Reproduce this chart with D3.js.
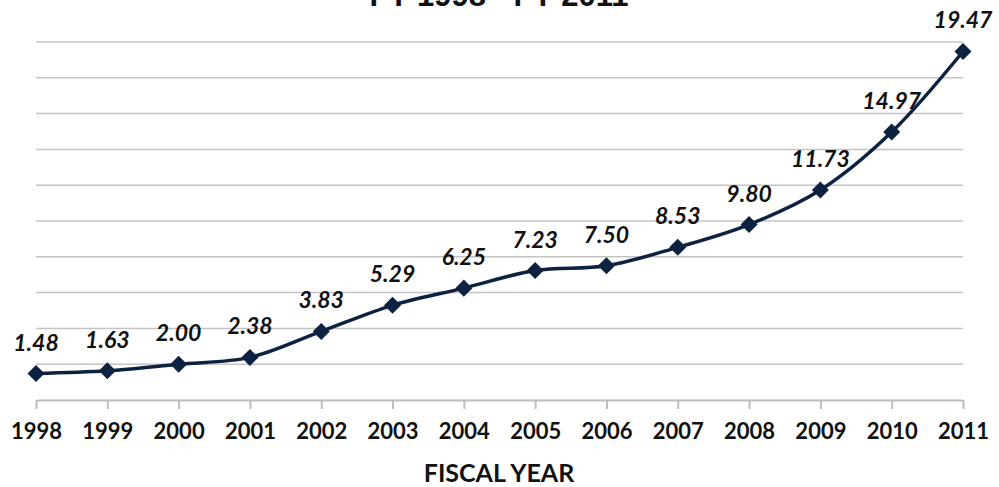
<!DOCTYPE html>
<html>
<head>
<meta charset="utf-8">
<script src="https://cdn.jsdelivr.net/npm/d3@7.8.5/dist/d3.min.js"></script>
<style>
  body { margin: 0; background: #fff; }
  svg { display: block; }
</style>
</head>
<body>
<div id="chart"></div>
<script>
const YEARS = ["1998", "1999", "2000", "2001", "2002", "2003", "2004", "2005", "2006", "2007", "2008", "2009", "2010", "2011"];
const VALUES = [1.48, 1.63, 2.0, 2.38, 3.83, 5.29, 6.25, 7.23, 7.5, 8.53, 9.8, 11.73, 14.97, 19.47];
const GRID_TICKS = [2, 4, 6, 8, 10, 12, 14, 16, 18, 20];

const W = 999, H = 487;
const LINE_COLOR = "#0d2240";
const FONT = "Lato, 'Open Sans', sans-serif";

const svg = d3.select("#chart").append("svg")
  .attr("width", W)
  .attr("height", H);

const x = d3.scalePoint().domain(YEARS).range([36, 963]);
const y = d3.scaleLinear().domain([0, 20]).range([400, 42]);

// title, mostly cropped off at top
svg.append("text")
  .attr("x", 499)
  .attr("y", 6)
  .attr("text-anchor", "middle")
  .style("font-family", "'Liberation Sans', Arial, sans-serif")
  .style("font-weight", "700")
  .style("font-size", "31px")
  .style("fill", "#111")
  .text("FY 1998 - FY 2011");

// gridlines
svg.append("g")
  .selectAll("line")
  .data(GRID_TICKS)
  .join("line")
  .attr("x1", x.range()[0])
  .attr("x2", x.range()[1])
  .attr("y1", d => y(d))
  .attr("y2", d => y(d))
  .attr("stroke", "#c4c4c4")
  .attr("stroke-width", 1.5);

// x axis
const xAxis = svg.append("g")
  .attr("transform", `translate(0,${y(0)})`)
  .call(d3.axisBottom(x).tickSize(9).tickPadding(14).tickSizeOuter(0));
xAxis.select(".domain").attr("stroke", "#bdbdbd").attr("stroke-width", 2);
xAxis.selectAll(".tick line").attr("stroke", "#bdbdbd").attr("stroke-width", 2);
xAxis.selectAll(".tick text")
  .style("font-family", FONT)
  .style("font-weight", "700")
  .style("font-size", "22px")
  .style("fill", "#111");

svg.append("text")
  .attr("x", 499)
  .attr("y", 482)
  .attr("text-anchor", "middle")
  .style("font-family", FONT)
  .style("font-weight", "700")
  .style("font-size", "25px")
  .style("fill", "#111")
  .text("FISCAL YEAR");

const pts = YEARS.map((yr, i) => ({ yr, v: VALUES[i] }));

const line = d3.line()
  .x(d => x(d.yr))
  .y(d => y(d.v))
  .curve(d3.curveCatmullRom.alpha(0.5));

svg.append("path")
  .datum(pts)
  .attr("d", line)
  .attr("fill", "none")
  .attr("stroke", LINE_COLOR)
  .attr("stroke-width", 3.5);

svg.append("g")
  .selectAll("path")
  .data(pts)
  .join("path")
  .attr("transform", d => `translate(${x(d.yr)},${y(d.v)})`)
  .attr("d", d3.symbol(d3.symbolDiamond2, 185))
  .attr("fill", LINE_COLOR);

svg.append("g")
  .selectAll("text")
  .data(pts)
  .join("text")
  .attr("x", d => x(d.yr))
  .attr("y", d => y(d.v) - 23)
  .attr("text-anchor", "middle")
  .style("font-family", FONT)
  .style("font-weight", "700")
  .style("font-style", "italic")
  .style("font-size", "23px")
  .style("fill", "#111")
  .text(d => d.v.toFixed(2));
</script>
</body>
</html>
